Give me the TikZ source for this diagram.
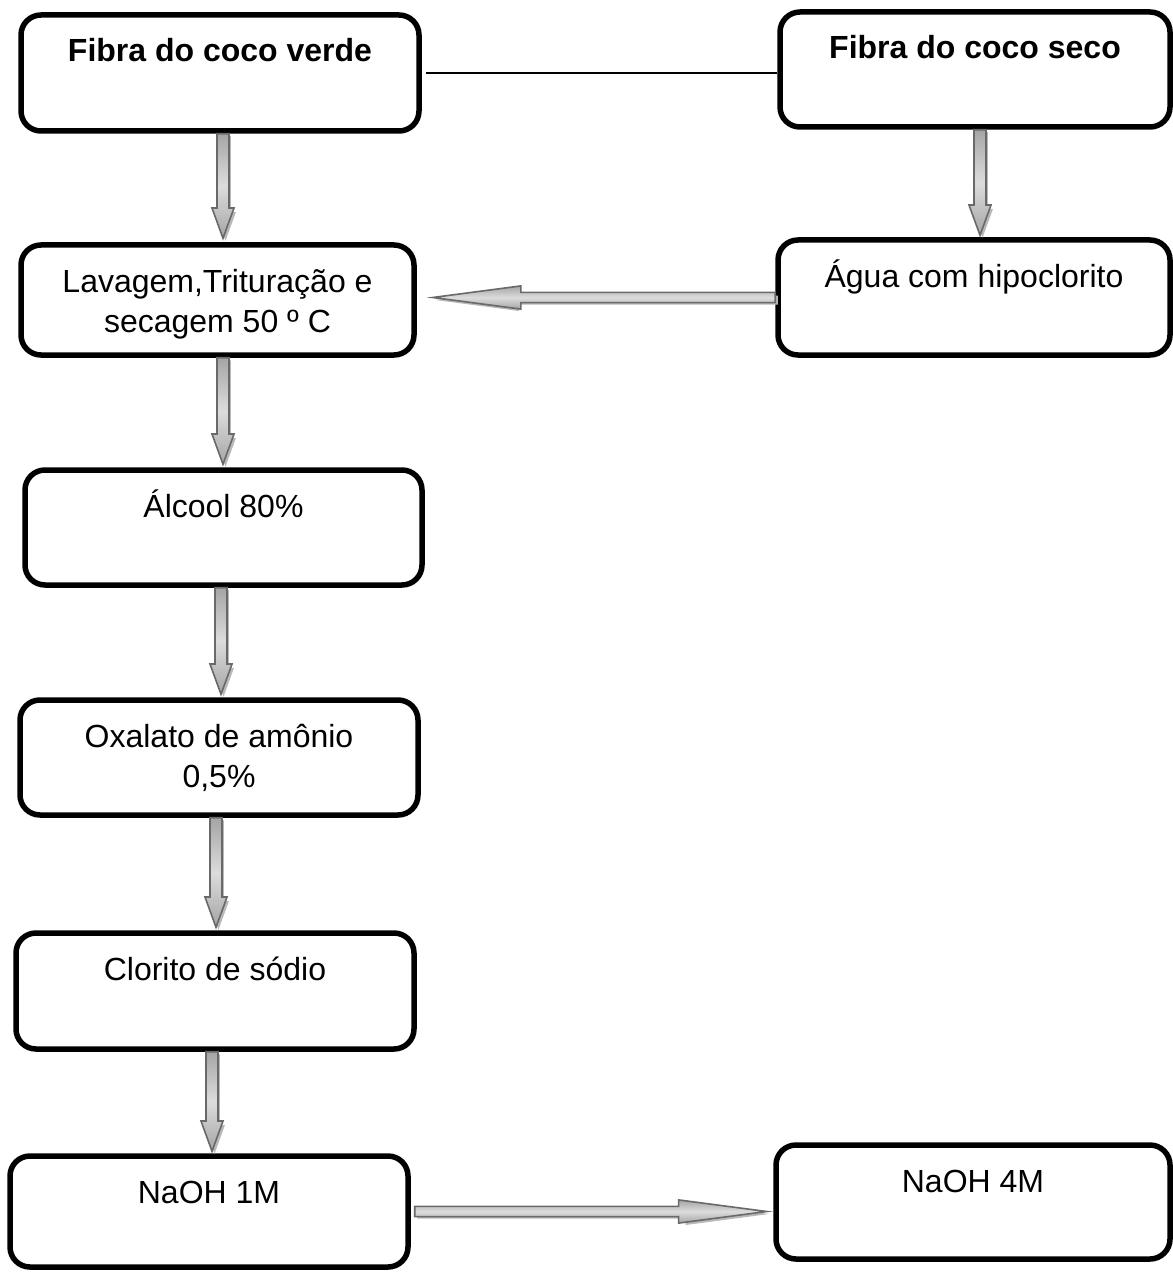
\documentclass[tikz,border=0pt]{standalone}
\usepackage{fontspec}
\setmainfont{Liberation Sans}
\usetikzlibrary{shapes.arrows,calc}
\definecolor{arrowline}{RGB}{105,105,105}
\definecolor{arrowlight}{RGB}{220,220,220}
\definecolor{arrowdark}{RGB}{165,165,165}
\definecolor{arrowshadow}{RGB}{185,185,185}
\newcommand{\boxtxt}[3]{\parbox[c][#2pt][t]{#1pt}{\centering\rule{0pt}{47pt}#3\par}}
\newcommand{\blockarrow}[4]{%
  \path let \p1=(#2), \p2=(#3), \n1={atan2(\y2-\y1,\x2-\x1)}, \n2={veclen(\x2-\x1,\y2-\y1)} in
    node[barrowshadow, #1, rotate=\n1, minimum height=\n2*1pt] (#4s) at ($(\p1)+(2.5pt,-2.5pt)$) {}
    node[barrow, #1, rotate=\n1, minimum height=\n2*1pt] (#4) at (\p1) {};
}
\tikzset{
  box/.style={draw=black, line width=5.5pt, rounded corners=20pt, inner sep=0pt, fill=white,
              font=\fontsize{32}{40}\selectfont},
  barrow/.style={single arrow, draw=arrowline, line width=1.6pt,
                 top color=arrowdark, bottom color=arrowdark, middle color=arrowlight,
                 inner xsep=0pt, anchor=tail, minimum width=0pt, outer sep=0pt},
  barrowshadow/.style={single arrow, fill=arrowshadow, draw=none, inner xsep=0pt, anchor=tail,
                 minimum width=0pt, outer sep=0pt},
  vshape/.style={inner ysep=5.2pt, single arrow head extend=5pt, single arrow tip angle=40},
  hshape/.style={inner ysep=4.3pt, single arrow head extend=6.5pt, single arrow tip angle=15},
  link/.style={draw=black, line width=1.3pt},
}
\begin{document}
\begin{tikzpicture}[x=1pt,y=-1pt]
\useasboundingbox (0,0) rectangle (1172,1273);
\fill[white] (0,0) rectangle (1172,1273);

\node[box] (b1) at (220,73)     {\boxtxt{398}{116}{\bfseries Fibra do coco verde}};
\node[box] (b2) at (975,69.5)   {\boxtxt{390}{115}{\bfseries Fibra do coco seco}};
\node[box] (b3) at (217.5,300)  {\boxtxt{393}{110}{Lavagem,Trituração e\\secagem 50 º C}};
\node[box] (b4) at (974,297.5)  {\boxtxt{392}{115}{Água com hipoclorito}};
\node[box] (b5) at (223.5,527.5){\boxtxt{397}{115}{Álcool 80\%}};
\node[box] (b6) at (219,757.5)  {\boxtxt{398}{115}{Oxalato de amônio\\0,5\%}};
\node[box] (b7) at (215,991)    {\boxtxt{398}{116}{Clorito de sódio}};
\node[box] (b8) at (209,1211.5) {\boxtxt{398}{111}{NaOH 1M}};
\node[box] (b9) at (973,1202)   {\boxtxt{394}{114}{NaOH 4M}};

% plain connector
\coordinate (l1) at ([xshift=4pt]b1.east);
\draw[link] (l1) -- (l1 -| b2.west);

% vertical block arrows
\coordinate (a1s) at ([xshift=3pt]b1.south);
\coordinate (a1e) at ([yshift=4pt]a1s |- b3.north);
\blockarrow{vshape}{a1s}{a1e}{a1}
\coordinate (a2s) at ([xshift=5pt]b2.south);
\coordinate (a2e) at ([yshift=2pt]a2s |- b4.north);
\blockarrow{vshape}{a2s}{a2e}{a2}
\coordinate (a3s) at ([xshift=5.5pt]b3.south);
\coordinate (a3e) at ([yshift=3pt]a3s |- b5.north);
\blockarrow{vshape}{a3s}{a3e}{a3}
\coordinate (a4s) at ([xshift=-2.5pt]b5.south);
\coordinate (a4e) at ([yshift=3pt]a4s |- b6.north);
\blockarrow{vshape}{a4s}{a4e}{a4}
\coordinate (a5s) at ([xshift=-3pt]b6.south);
\coordinate (a5e) at ([yshift=3pt]a5s |- b7.north);
\blockarrow{vshape}{a5s}{a5e}{a5}
\coordinate (a6s) at ([xshift=-3pt]b7.south);
\coordinate (a6e) at ([yshift=2pt]a6s |- b8.north);
\blockarrow{vshape}{a6s}{a6e}{a6}

% horizontal block arrows
\coordinate (a7s) at (b4.west);
\coordinate (a7e) at ($(b3.east |- a7s)+(16,0)$);
\blockarrow{hshape}{a7s}{a7e}{a7}
\coordinate (a8s) at ([xshift=4pt]b8.east);
\coordinate (a8e) at ($(b9.west |- a8s)+(-6.5,0)$);
\blockarrow{hshape}{a8s}{a8e}{a8}
\end{tikzpicture}
\end{document}
